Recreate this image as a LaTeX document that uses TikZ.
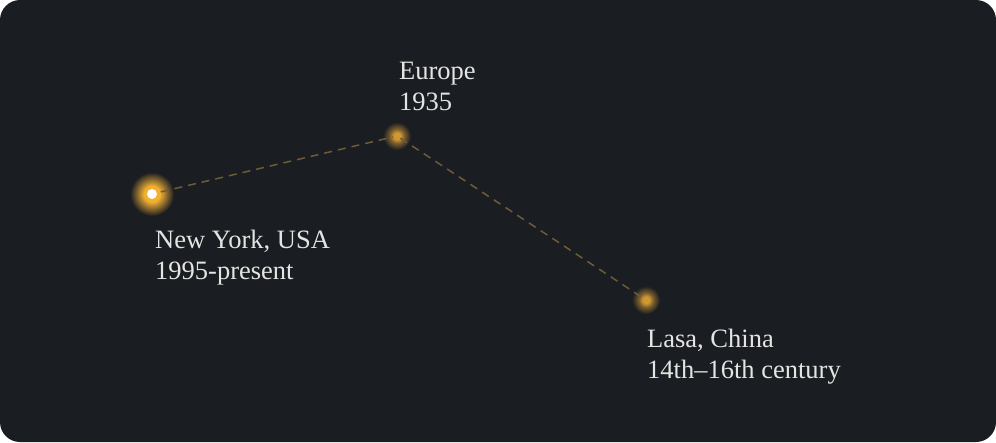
\documentclass[tikz,border=0pt]{standalone}
\usepackage{fontspec}
\setmainfont{Liberation Serif}
\definecolor{bgc}{HTML}{1A1D21}
\definecolor{txt}{HTML}{E4E4E2}
\definecolor{dashc}{HTML}{6E5C36}
\definecolor{nyc}{HTML}{F2B030}
\definecolor{nymid}{HTML}{A07830}
\definecolor{dotc}{HTML}{D09830}
\definecolor{dotmid}{HTML}{7A5E2E}
\pgfdeclareradialshading{glowbig}{\pgfpoint{0bp}{0bp}}{color(0bp)=(nyc); color(9bp)=(nyc); color(15bp)=(nymid); color(25bp)=(bgc); color(50bp)=(bgc)}
\pgfdeclareradialshading{glowsmall}{\pgfpoint{0bp}{0bp}}{color(0bp)=(dotc); color(6bp)=(dotc); color(13bp)=(dotmid); color(25bp)=(bgc); color(50bp)=(bgc)}
\tikzset{
  place/.style={anchor=base west, inner sep=0pt, align=left, text=txt,
    font=\fontsize{26.5}{31}\selectfont},
  route/.style={draw=dashc, line width=1.5pt, dash pattern=on 8pt off 6pt},
}
\begin{document}
\begin{tikzpicture}[x=1pt,y=-1pt]
\fill[white] (0,0) rectangle (996,442);
\fill[bgc, rounded corners=20pt] (0,0) rectangle (996,442);
\useasboundingbox (0,0) rectangle (996,442);
\coordinate (ny) at (152,194);
\coordinate (eu) at (397,136);
\coordinate (la) at (646,300);
\shade[shading=glowbig] (ny) circle[radius=22pt];
\shade[shading=glowsmall] (eu) circle[radius=14pt];
\shade[shading=glowsmall] (la) circle[radius=14pt];
\draw[route, shorten <=9pt, shorten >=4pt] (ny) -- (eu);
\draw[route, shorten <=4pt, shorten >=6pt] (eu) -- (la);
\fill[white] (ny) circle[radius=5pt];
\node[place] (nyl) at (155,279) {New York, USA\\1995-present};
\node[place] (eul) at (399,110) {Europe\\1935};
\node[place] (lal) at (647,378) {Lasa, China\\14th–16th century};
\end{tikzpicture}
\end{document}
